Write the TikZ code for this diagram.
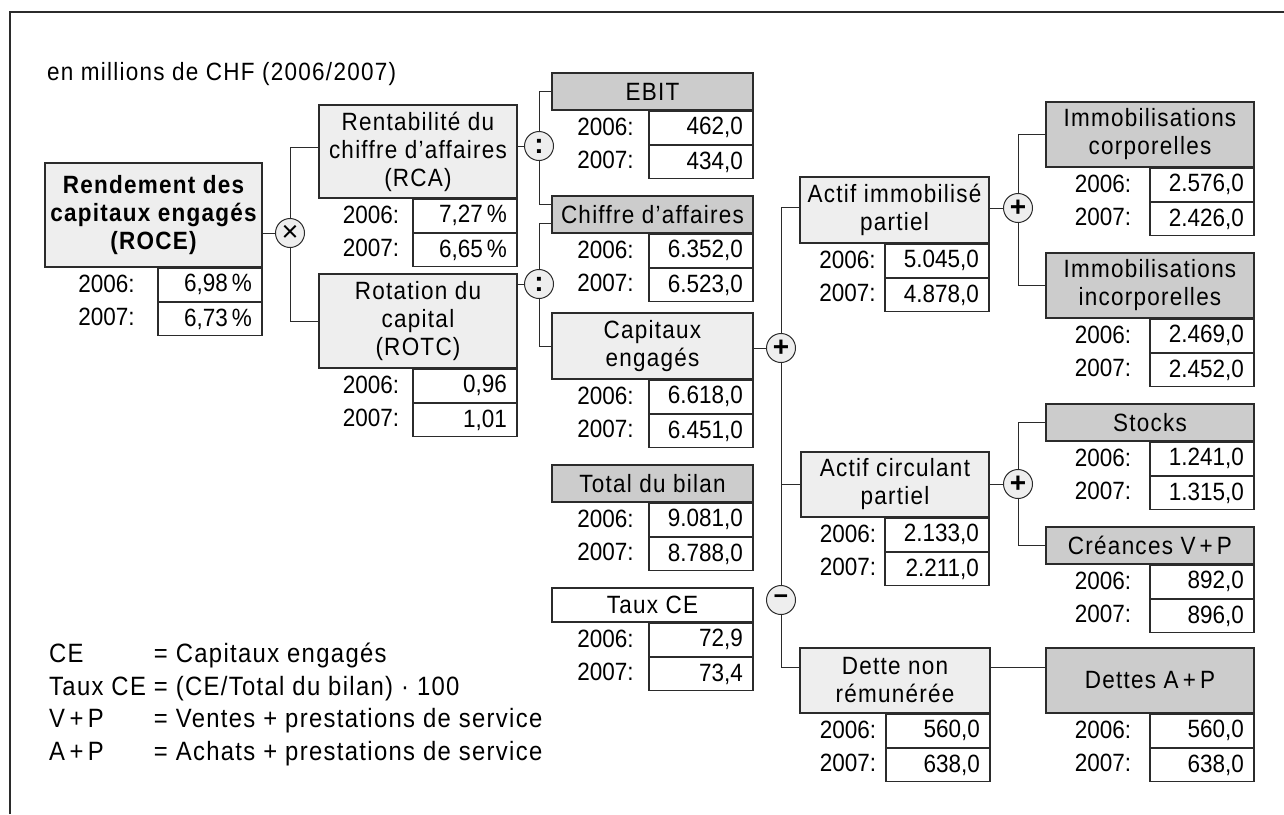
\documentclass[tikz,border=0pt]{standalone}
\usepackage{fontspec}
\setmainfont{Liberation Sans}[FakeStretch=0.9, LetterSpace=5]
\newfontfamily\chiffres{Liberation Sans}[FakeStretch=0.9]
\newfontfamily\signes{Liberation Sans}
\definecolor{fondclair}{HTML}{EEEEEE}
\definecolor{fondfonce}{HTML}{CCCCCC}
\definecolor{trait}{HTML}{2B2B2B}

\newcommand{\taille}{\fontsize{25}{28}\selectfont}
% #1 nom, #2 gauche, #3 droite, #4 haut, #5 bas, #6 style, #7 titre, #8 2006, #9 2007
\newcommand{\bloc}[9]{%
  \node[#6, minimum width={(#3-#2)*1pt}, minimum height={(#5-#4)*1pt}]
        (#1) at ({(#2+#3)/2},{(#4+#5)/2}) {#7};
  \node[valeur, anchor=north east] (#1-a) at (#1.south east) {#8};
  \node[valeur, anchor=north east] (#1-b) at (#1-a.south east) {#9};
  \node[annee] at ({(#2+#3-104)/2+5},{#5+16.5}) {2006:};
  \node[annee] at ({(#2+#3-104)/2+5},{#5+49.5}) {2007:};
}

\tikzset{
  titre/.style    = {draw=trait, line width=1.2pt, align=center, inner sep=1pt, font=\taille},
  clair/.style    = {titre, fill=fondclair},
  gras/.style     = {clair, font=\taille\bfseries},
  fonce/.style    = {titre, fill=fondfonce},
  blanc/.style    = {titre, fill=white},
  valeur/.style   = {draw=trait, line width=1.2pt, fill=white, text width=84pt,
                     inner xsep=10pt, inner ysep=0pt, minimum height=33pt,
                     align=right, font=\taille\chiffres},
  annee/.style    = {font=\taille\chiffres, inner sep=0pt},
  operateur/.style = {circle, draw=trait, line width=1pt, fill=fondclair,
                     minimum size=29pt, inner sep=0pt,
                     font=\fontsize{28}{28}\selectfont\bfseries\signes},
  lien/.style     = {draw=trait, line width=1pt}
}

\begin{document}
\begin{tikzpicture}[x=1pt, y=-1pt]
  \useasboundingbox (0,0) rectangle (1284,814);

  % Cadre
  \draw[trait, line width=1.5pt] (10,814) -- (10,12) -- (1284,12);

  % Titre
  \node[anchor=west, font=\taille, inner sep=0pt] (unite) at (47,74)
        {en millions de CHF (2006/2007)};

  % Colonne 1
  \bloc{roce}{45}{262}{163}{267}{gras}
       {Rendement des\\capitaux engagés\\(ROCE)}{6,98\,\%}{6,73\,\%}

  % Colonne 2
  \bloc{rca}{319}{517}{105}{198}{clair}{Rentabilité du\\chiffre d’affaires\\(RCA)}{7,27\,\%}{6,65\,\%}
  \bloc{rot}{319}{517}{274}{368}{clair}{Rotation du\\capital\\(ROTC)}{0,96}{1,01}

  % Colonne 3
  \bloc{ebit}{552}{753}{73}{110}{fonce}{EBIT}{462,0}{434,0}
  \bloc{ca}{552}{753}{196}{233}{fonce}{Chiffre d’affaires}{6.352,0}{6.523,0}
  \bloc{ce}{552}{753}{313}{379}{clair}{Capitaux\\engagés}{6.618,0}{6.451,0}
  \bloc{tb}{552}{753}{465}{502}{fonce}{Total du bilan}{9.081,0}{8.788,0}
  \bloc{taux}{552}{753}{588}{622}{blanc}{Taux CE}{72,9}{73,4}

  % Colonne 4
  \bloc{aip}{800}{989}{177}{243}{clair}{Actif immobilisé\\partiel}{5.045,0}{4.878,0}
  \bloc{acp}{801}{989}{452}{517}{clair}{Actif circulant\\partiel}{2.133,0}{2.211,0}
  \bloc{dnr}{800}{990}{648}{713}{clair}{Dette non\\rémunérée}{560,0}{638,0}

  % Colonne 5
  \bloc{icorp}{1046}{1254}{102}{167}{fonce}{Immobilisations\\corporelles}{2.576,0}{2.426,0}
  \bloc{iinc}{1046}{1254}{253}{318}{fonce}{Immobilisations\\incorporelles}{2.469,0}{2.452,0}
  \bloc{stk}{1046}{1254}{404}{441}{fonce}{Stocks}{1.241,0}{1.315,0}
  \bloc{crv}{1046}{1254}{527}{564}{fonce}{Créances V\,+\,P}{892,0}{896,0}
  \bloc{dap}{1046}{1254}{648}{713}{fonce}{Dettes A\,+\,P}{560,0}{638,0}

  % Opérateurs
  \node[operateur, font=\fontsize{29}{29}\selectfont\signes] (fois) at (290,233) {×};
  \node[operateur] (div1)  at (539,146)  {:};
  \node[operateur] (div2)  at (539,284)  {:};
  \node[operateur] (plus1) at (781,348)  {+};
  \node[operateur, font=\fontsize{25}{25}\selectfont\bfseries\signes] (moins) at (781,600) {−};
  \node[operateur] (plus2) at (1018,208) {+};
  \node[operateur] (plus3) at (1018,484) {+};

  % Liens
  \draw[lien] (fois.west) -- (fois.west -| roce.east);
  \draw[lien] (fois.north) |- ([yshift=4.5pt]rca.west);
  \draw[lien] (fois.south) |- (rot.west);
  \draw[lien] (div1.west) -- (div1.west -| rca.east);
  \draw[lien] (div1.north) |- (ebit.west);
  \draw[lien] (div1.south) |- ([yshift=10.5pt]ca.west);
  \draw[lien] (div2.west) -- (div2.west -| rot.east);
  \draw[lien] (div2.north) |- ([yshift=-8.5pt]ca.west);
  \draw[lien] (div2.south) |- (ce.west);
  \draw[lien] (plus1.west) -- (plus1.west -| ce.east);
  \draw[lien] (plus1.north) |- ([yshift=3pt]aip.west);
  \draw[lien] (plus1.south) -- (moins.north);
  \draw[lien] (plus1.south) |- (acp.west);
  \draw[lien] (moins.south) |- ([yshift=13.5pt]dnr.west);
  \draw[lien] ([yshift=13.5pt]dnr.east) -- ([yshift=13.5pt]dnr.east -| dap.west);
  \draw[lien] (plus2.west) -- (plus2.west -| aip.east);
  \draw[lien] (plus2.north) |- (icorp.west);
  \draw[lien] (plus2.south) |- (iinc.west);
  \draw[lien] (plus3.west) -- (plus3.west -| acp.east);
  \draw[lien] (plus3.north) |- (stk.west);
  \draw[lien] (plus3.south) |- (crv.west);

  % Légende
  \node[anchor=north west, font=\fontsize{26.5}{32.5}\selectfont, inner sep=0pt] (legende) at (49,640)
        {\begin{tabular}{@{}l@{\hspace{8pt}}l@{}}
          CE      & = Capitaux engagés\\
          Taux CE & = (CE/Total du bilan) · 100\\
          V\,+\,P & = Ventes + prestations de service\\
          A\,+\,P & = Achats + prestations de service
        \end{tabular}};
\end{tikzpicture}
\end{document}
